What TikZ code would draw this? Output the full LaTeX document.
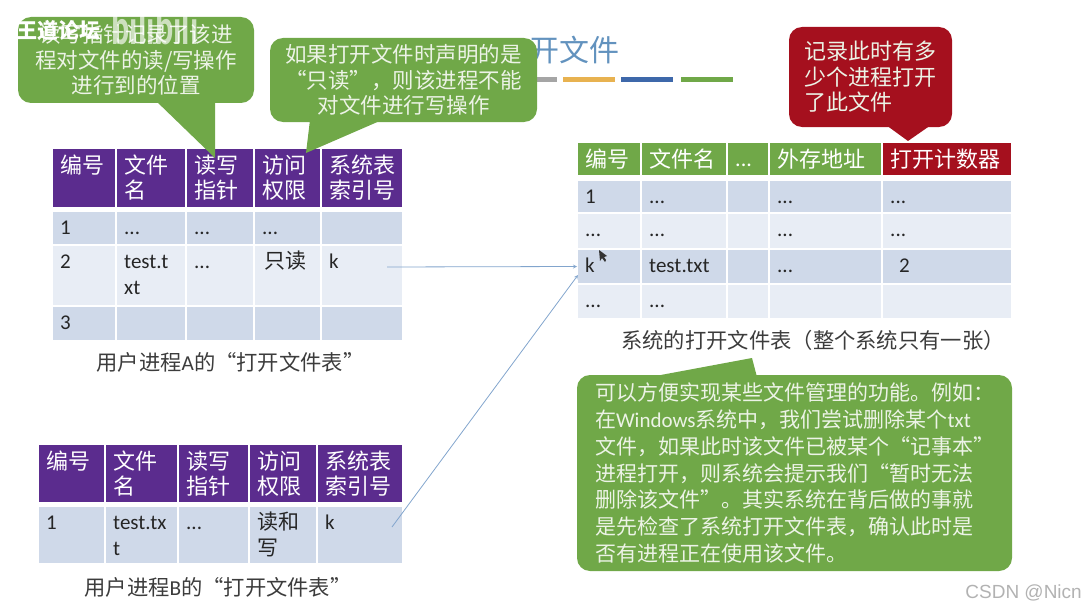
\documentclass[tikz,border=0pt]{standalone}
\usepackage{fontspec}
\setmainfont{Noto Sans CJK SC}
\newfontfamily\latn{Carlito}
\newfontfamily\arialn{Liberation Sans}
\usepackage{xcolor}
\definecolor{purpleHead}{RGB}{91, 44, 142}
\definecolor{greenNote}{RGB}{112, 168, 72}
\definecolor{redNote}{RGB}{165, 16, 30}
\definecolor{rowDark}{RGB}{207, 217, 233}
\definecolor{rowLight}{RGB}{232, 237, 245}
\definecolor{blueTitle}{RGB}{98, 146, 190}
\definecolor{linkBlue}{RGB}{130, 165, 205}
\definecolor{barGray}{RGB}{165, 165, 165}
\definecolor{barOrange}{RGB}{232, 178, 80}
\definecolor{barBlue}{RGB}{62, 104, 170}
\definecolor{barGreen}{RGB}{112, 168, 72}
\definecolor{noteText}{RGB}{236, 243, 230}
\definecolor{capText}{RGB}{60, 60, 60}
\usepackage{tikz}
\usetikzlibrary{arrows,calc,positioning}
\newcommand{\dd}{...}
\newcommand{\tall}{\rule{0pt}{18.5pt}}
\tikzstyle{cell}=[rectangle, draw=white, line width=1.2pt, inner sep=0pt,
                  outer sep=0pt, anchor=north west]
\tikzstyle{headtext}=[anchor=north west, inner xsep=8pt, inner ysep=7pt, align=left,
                      text=white, font=\fontsize{22}{25}\selectfont,
                      execute at begin node=\strut]
\tikzstyle{bodytext}=[anchor=north west, inner xsep=8pt, inner ysep=5pt, align=left,
                      text=black!85, font=\fontsize{21}{26}\selectfont\latn,
                      execute at begin node=\strut]
\tikzstyle{headcell}=[cell, label={[headtext]north west:#1}]
\tikzstyle{bodycell}=[cell, label={[bodytext]north west:#1}]
\tikzstyle{note}=[rectangle, rounded corners=13pt, inner sep=0pt, outer sep=0pt,
                  align=center, text=noteText, font=\fontsize{21.5}{25.5}\selectfont]
\tikzstyle{caption}=[text=capText, inner sep=0pt, font=\fontsize{21.3}{25}\selectfont]
\tikzstyle{link}=[-stealth, line width=0.8pt, linkBlue]
\tikzstyle{bar}=[line width=5pt]
\begin{document}
\begin{tikzpicture}[x=1pt,y=-1pt]
    \useasboundingbox (0,0) rectangle (1085,610);

    \node (title) [anchor=east, inner sep=0pt, text=blueTitle, font=\fontsize{30}{34}\selectfont] at (620,50) {开文件};
    \foreach \c/\i/\j in {barGray/505/557,barOrange/563/615,barBlue/621/673,barGreen/681/733}
        \draw [bar,\c] (\i,80) -- (\j,80);

    \begin{scope}
        \foreach \n/\x/\w/\txt in {aH1/52/64/编号,aH2/116/70/文件\\名,aH3/186/68/读写\\指针,aH4/254/67/访问\\权限,aH5/321/82/系统表\\索引号}
            \node (\n) [headcell=\txt, fill=purpleHead, minimum width=\w, minimum height=60] at (\x,148) {};
        \foreach \n/\x/\w/\txt in {a11/52/64/1,a12/116/70/\dd,a13/186/68/\dd,a14/254/67/\dd,a15/321/82/{}}
            \node (\n) [bodycell=\txt, fill=rowDark, minimum width=\w, minimum height=34] at (\x,211) {};
        \foreach \n/\x/\w/\txt in {a21/52/64/2,a22/116/70/\tall test.t\\xt,a23/186/68/\dd,a24/254/67/{\hspace{2pt}\rmfamily 只读},a25/321/82/k}
            \node (\n) [bodycell=\txt, fill=rowLight, minimum width=\w, minimum height=61] at (\x,245) {};
        \foreach \n/\x/\w/\txt in {a31/52/64/3,a32/116/70/{},a33/186/68/{},a34/254/67/{},a35/321/82/{}}
            \node (\n) [bodycell=\txt, fill=rowDark, minimum width=\w, minimum height=35] at (\x,306) {};
        \node (capA) [caption] at (230.5,362) {用户进程{\latn A}的“打开文件表”};
    \end{scope}

    \begin{scope}
        \foreach \n/\x/\w/\txt in {bH1/38/67/编号,bH2/105/73/文件\\名,bH3/178/71/读写\\指针,bH4/249/68/访问\\权限,bH5/317/86/系统表\\索引号}
            \node (\n) [headcell=\txt, fill=purpleHead, minimum width=\w, minimum height=59] at (\x,444) {};
        \foreach \n/\x/\w/\txt in {b11/38/67/1,b12/105/73/\tall test.tx\\t,b13/178/71/\dd,b14/249/68/{\tall\rmfamily 读和}\\{\rmfamily 写},b15/317/86/k}
            \node (\n) [bodycell=\txt, fill=rowDark, minimum width=\w, minimum height=58] at (\x,506) {};
        \node (capB) [caption] at (218,587) {用户进程{\latn B}的“打开文件表”};
    \end{scope}

    \begin{scope}
        \foreach \n/\x/\w/\txt/\col in {sH1/577/64/编号/greenNote,sH2/641/86/文件名/greenNote,sH3/727/42/{\latn\dd}/greenNote,sH4/769/113/外存地址/greenNote,sH5/882/130/打开计数器/redNote}
            \node (\n) [headcell=\txt, fill=\col, minimum width=\w, minimum height=34] at (\x,142) {};
        \foreach \n/\x/\w/\txt in {s11/577/64/1,s12/641/86/\dd,s13/727/42/{},s14/769/113/\dd,s15/882/130/\dd}
            \node (\n) [bodycell=\txt, fill=rowDark, minimum width=\w, minimum height=33] at (\x,180) {};
        \foreach \n/\x/\w/\txt in {s21/577/64/\dd,s22/641/86/\dd,s23/727/42/{},s24/769/113/\dd,s25/882/130/\dd}
            \node (\n) [bodycell=\txt, fill=rowLight, minimum width=\w, minimum height=36] at (\x,213) {};
        \foreach \n/\x/\w/\txt in {s31/577/64/k,s32/641/86/test.txt,s33/727/42/{},s34/769/113/\dd,s35/882/130/{\hspace{9pt}2}}
            \node (\n) [bodycell=\txt, fill=rowDark, minimum width=\w, minimum height=35] at (\x,249) {};
        \foreach \n/\x/\w/\txt in {s41/577/64/\dd,s42/641/86/\dd,s43/727/42/{},s44/769/113/{},s45/882/130/{}}
            \node (\n) [bodycell=\txt, fill=rowLight, minimum width=\w, minimum height=35] at (\x,284) {};
        \node (capS) [caption] at (813,340) {系统的打开文件表（整个系统只有一张）};
    \end{scope}

    \coordinate (startA) at (387,267);
    \coordinate (startB) at (392,527);
    \coordinate (endB) at (578,275);
    \draw [link] (startA) -- (s31.west);
    \draw [link] (startB) -- (endB);

    \fill [black!80] (599,250) -- (600,261) -- (602,258) -- (605,262) -- (606,260) -- (604,257) -- (607,256) -- cycle;

    \fill [greenNote] (155,100) -- (215,158) -- (215,100) -- cycle;
    \node (noteRW) [note, fill=greenNote, minimum width=236, minimum height=86] at (136,60)
        {读写指针记录了该进\\程对文件的读/写操作\\进行到的位置};

    \fill [greenNote] (310,120) -- (306,153) -- (382,120) -- cycle;
    \node (noteRO) [note, fill=greenNote, minimum width=267, minimum height=84] at (403.5,80)
        {如果打开文件时声明的是\\“只读”，则该进程不能\\对文件进行写操作};

    \fill [redNote] (886,125) -- (908,141) -- (931,125) -- cycle;
    \node (noteCnt) [note, fill=redNote, minimum width=163, minimum height=100, align=left,
                     font=\fontsize{22}{25.5}\selectfont] at (870.5,77)
        {记录此时有多\\少个进程打开\\了此文件};

    \fill [greenNote] (650,377) -- (752,358) -- (757,377) -- cycle;
    \node (noteSys) [note, fill=greenNote, minimum width=435, minimum height=196, align=left,
                     font=\fontsize{21}{26.8}\selectfont] at (794.5,473)
        {可以方便实现某些文件管理的功能。例如：\\
         在{\latn Windows}系统中，我们尝试删除某个{\latn txt}\\
         文件，如果此时该文件已被某个“记事本”\\
         进程打开，则系统会提示我们“暂时无法\\
         删除该文件”。其实系统在背后做的事就\\
         是先检查了系统打开文件表，确认此时是\\
         否有进程正在使用该文件。};

    \node (markBili) [anchor=center, inner sep=0pt, text=white, opacity=0.65, yscale=1.5, transform shape, font=\fontsize{34}{38}\bfseries\selectfont\latn] at (155,27) {bilibili};
    \node (markWD) [anchor=west, inner sep=0pt, text=white, font=\fontsize{21}{25}\bfseries\selectfont] at (16,31) {王道论坛};
    \node (markCSDN) [anchor=east, inner sep=0pt, text=black!30, font=\fontsize{19}{22}\selectfont\arialn] at (1082,593) {CSDN @Nicn};
\end{tikzpicture}
\end{document}
